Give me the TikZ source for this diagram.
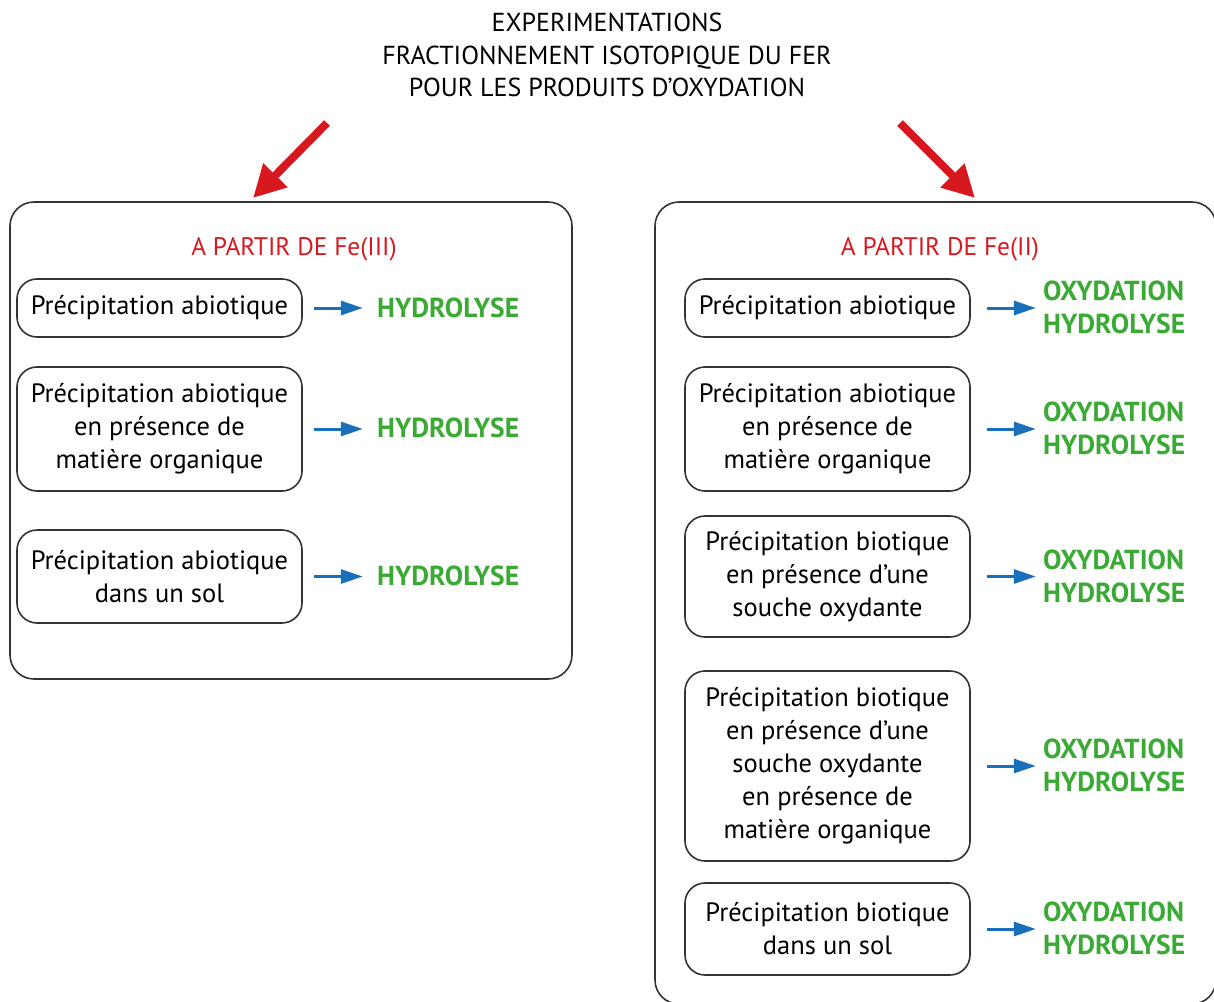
\documentclass[tikz,border=0pt]{standalone}
\usepackage{fontspec}
\setmainfont{PT Sans}
\usetikzlibrary{arrows.meta,calc}
\definecolor{myred}{HTML}{D7191F}
\definecolor{myblue}{HTML}{1A6FBA}
\definecolor{mygreen}{HTML}{3AAA35}
\definecolor{myline}{HTML}{333333}
\begin{document}
\begin{tikzpicture}[x=1pt,y=-1pt,
  outerbox/.style={draw=myline,line width=1.6pt,rounded corners=24pt},
  innerbox/.style={draw=myline,line width=1.6pt,rounded corners=20pt,minimum width=285pt,align=center,font=\fontsize{26.5}{33}\selectfont,inner sep=0pt},
  head/.style={text=myred,font=\fontsize{25.4}{30}\selectfont},
  res/.style={text=mygreen,font=\fontsize{27.5}{33}\bfseries\selectfont,align=left,anchor=west,inner sep=0pt},
  bluearr/.style={draw=myblue,line width=3pt,-{Triangle[length=22pt,width=14pt]}},
  redarr/.style={draw=myred,line width=8pt,-{Triangle[length=32pt,width=32pt]}}
]
\useasboundingbox (0,0) rectangle (1214,1001);
\node[align=center,font=\fontsize{26}{32.5}\selectfont] (title) at (607,55) {EXPERIMENTATIONS\\FRACTIONNEMENT ISOTOPIQUE DU FER\\POUR LES PRODUITS D’OXYDATION};
\coordinate (la) at (327,123);
\coordinate (ra) at (900,123);
\coordinate (lt) at (253,198);
\coordinate (rt) at (975,198);
\draw[redarr] (la) -- (lt);
\draw[redarr] (ra) -- (rt);
\draw[outerbox] (10,202) rectangle (572,679);
\draw[outerbox] (655,202) rectangle (1216,1004);
\node[head] (hl) at (294,249) {A PARTIR DE Fe(III)};
\node[head] (hr) at (940,249) {A PARTIR DE Fe(II)};
% left
\node[innerbox,minimum height=58pt] (l1) at (159.5,308) {Précipitation abiotique};
\node[innerbox,minimum height=124pt] (l2) at (159.5,429) {Précipitation abiotique\\en présence de\\matière organique};
\node[innerbox,minimum height=93pt] (l3) at (159.5,576.5) {Précipitation abiotique\\dans un sol};
\node[res] (g1) at (377,308) {HYDROLYSE};
\node[res] (g2) at (377,428) {HYDROLYSE};
\node[res] (g3) at (377,576) {HYDROLYSE};
\draw[bluearr] ($(l1.east)+(11,0)$) -- ($(l1.east)+(60,0)$);
\draw[bluearr] ($(l2.east)+(11,0)$) -- ($(l2.east)+(60,0)$);
\draw[bluearr] ($(l3.east)+(11,0)$) -- ($(l3.east)+(60,0)$);
% right
\node[innerbox,minimum height=58pt] (r1) at (827.5,308) {Précipitation abiotique};
\node[innerbox,minimum height=124pt] (r2) at (827.5,429) {Précipitation abiotique\\en présence de\\matière organique};
\node[innerbox,minimum height=121pt] (r3) at (827.5,576.5) {Précipitation biotique\\en présence d’une\\souche oxydante};
\node[innerbox,minimum height=190pt] (r4) at (827.5,766) {Précipitation biotique\\en présence d’une\\souche oxydante\\en présence de\\matière organique};
\node[innerbox,minimum height=92pt] (r5) at (827.5,929) {Précipitation biotique\\dans un sol};
\node[res] (h1) at (1043,307) {OXYDATION\\HYDROLYSE};
\node[res] (h2) at (1043,428) {OXYDATION\\HYDROLYSE};
\node[res] (h3) at (1043,576) {OXYDATION\\HYDROLYSE};
\node[res] (h4) at (1043,765) {OXYDATION\\HYDROLYSE};
\node[res] (h5) at (1043,928) {OXYDATION\\HYDROLYSE};
\draw[bluearr] ($(r1.east)+(16,0)$) -- ($(r1.east)+(65,0)$);
\draw[bluearr] ($(r2.east)+(16,0)$) -- ($(r2.east)+(65,0)$);
\draw[bluearr] ($(r3.east)+(16,0)$) -- ($(r3.east)+(65,0)$);
\draw[bluearr] ($(r4.east)+(16,0)$) -- ($(r4.east)+(65,0)$);
\draw[bluearr] ($(r5.east)+(16,0)$) -- ($(r5.east)+(65,0)$);
\end{tikzpicture}
\end{document}
